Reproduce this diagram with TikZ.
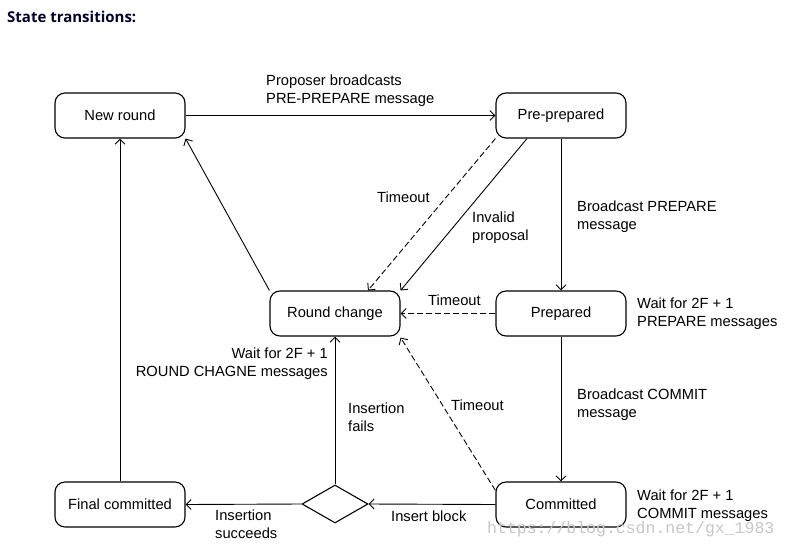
\documentclass[tikz,border=0pt]{standalone}
\usepackage{fontspec}
\setmainfont{Liberation Sans}
\newfontfamily\titlefont{Open Sans}
\newfontfamily\markfont{Liberation Mono}
\usetikzlibrary{arrows.meta,shapes.geometric}
\begin{document}
\begin{tikzpicture}[x=1pt,y=-1pt,
  state/.style={draw, line width=1.1pt, rounded corners=10pt, minimum width=130pt, minimum height=45pt, inner sep=0pt, font=\fontsize{14.7}{18}\selectfont},
  lbl/.style={inner sep=0pt, align=left, anchor=north west, font=\fontsize{14.7}{18}\selectfont},
  conn/.style={line width=0.9pt, -{Straight Barb[length=5pt,width=10pt,line width=0.9pt]}},
  dconn/.style={conn, dash pattern=on 6pt off 3pt},
]
\useasboundingbox (0,0) rectangle (789,546);
\node[inner sep=0pt, anchor=base west, text=black!85!blue, font=\titlefont\fontsize{15}{18}\selectfont\bfseries] (title) at (7,22) {State transitions:};

\node[state] (nr) at (120,115.5) {New round};
\node[state] (pre) at (561,115.5) {Pre-prepared};
\node[state] (rc) at (335,313.5) {Round change};
\node[state] (prep) at (561,313.5) {Prepared};
\node[state] (fc) at (120,504.5) {Final committed};
\node[state] (com) at (561,504.5) {Committed};
\node[draw, diamond, line width=1.1pt, minimum width=66pt, minimum height=38pt, aspect=1.74, inner sep=0pt] (dec) at (335,504) {};

\draw[conn] (nr.east) -- (pre.west);
\draw[dconn] (pre.south west) -- ([xshift=33pt]rc.north);
\draw[conn] ([xshift=-34pt]pre.south) -- (rc.north east);
\draw[conn] (pre.south) -- (prep.north);
\draw[dconn] (prep.west) -- (rc.east);
\draw[conn] (prep.south) -- (com.north);
\draw[dconn] ([yshift=14pt]com.west) -- ([yshift=-1pt]rc.south east);
\draw[conn] (com.west) -- (dec.east);
\draw[conn] (dec.north) -- (rc.south);
\draw[conn] (dec.west) -- (fc.east);
\draw[conn] (fc.north) -- (nr.south);
\draw[conn] (rc.north west) -- (nr.south east);

\node[lbl] (l1) at (266,75) {Proposer broadcasts\\PRE-PREPARE message};
\node[lbl] (l2) at (377,192) {Timeout};
\node[lbl] (l3) at (472,212) {Invalid\\proposal};
\node[lbl] (l4) at (428,295) {Timeout};
\node[lbl] (l5) at (577,201) {Broadcast PREPARE\\message};
\node[lbl] (l6) at (637,298) {Wait for 2F + 1\\PREPARE messages};
\node[lbl] (l7) at (577,389) {Broadcast COMMIT\\message};
\node[lbl, anchor=north east, align=right] (l8) at (328,348) {Wait for 2F + 1\\ROUND CHAGNE messages};
\node[lbl] (l9) at (348,403) {Insertion\\fails};
\node[lbl] (l10) at (451,400) {Timeout};
\node[lbl] (l11) at (391,511) {Insert block};
\node[lbl] (l12) at (215,510) {Insertion\\succeeds};
\node[lbl] (l13) at (637,490) {Wait for 2F + 1\\COMMIT messages};

\node[inner sep=0pt, anchor=base west, text=black!22, font=\markfont\fontsize{16.5}{18}\selectfont] (wm) at (487,533) {https://blog.csdn.net/gx\_1983};
\end{tikzpicture}
\end{document}
